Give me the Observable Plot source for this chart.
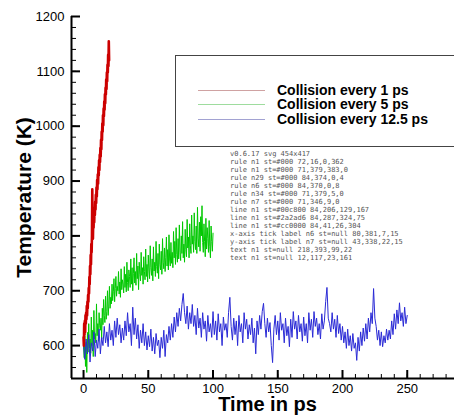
<!DOCTYPE html>
<html>
<head>
<meta charset="utf-8">
<script src="https://cdn.jsdelivr.net/npm/d3@7"></script>
<script src="https://cdn.jsdelivr.net/npm/@observablehq/plot@0.6"></script>
<style>
  html, body { margin: 0; padding: 0; background: #fff; }
  body { width: 454px; height: 417px; overflow: hidden; position: relative; font-family: "Liberation Sans", Arial, Helvetica, sans-serif; }
  #legend { position: absolute; left: 175px; top: 55px; width: 320px; height: 92px; border: 1.5px solid #444; background: #fff; box-sizing: border-box; }
  .row { position: absolute; left: 0; height: 14px; }
  .sw { position: absolute; left: 22px; width: 67px; height: 0; border-top: 1.5px solid; top: 7px; }
  .lb { position: absolute; left: 101px; top: 0; font-size: 14px; font-weight: bold; line-height: 14px; white-space: nowrap; color: #000; }
  #dbg { position: absolute; left: 230px; top: 150px; width: 224px; font-size: 7px; line-height: 8px; white-space: pre-wrap; word-break: break-all; margin: 0; color: #555; }
</style>
</head>
<body>
<div id="chart"></div>
<div id="legend"></div>
<pre id="dbg"></pre>
<script>
const seriesNames = ["Collision every 1 ps", "Collision every 5 ps", "Collision every 12.5 ps"];
const seriesColors = ["#cc0000", "#00c800", "#2a2ad6"];
const legendColors = ["#cfa2a2", "#9edc9e", "#a2a2d2"];
const redStep = 0.25;
const redValues = [
  615, 600, 640, 620, 645, 625, 655, 640, 660, 648,
  672, 655, 680, 668, 692, 680, 705, 695, 725, 712,
  745, 730, 765, 748, 785, 770, 800, 885, 805, 795,
  830, 815, 840, 825, 850, 838, 862, 848, 875, 860,
  888, 872, 902, 885, 912, 895, 925, 910, 938, 920,
  948, 935, 960, 945, 975, 958, 990, 975, 1005, 990,
  1020, 1002, 1032, 1018, 1045, 1030, 1058, 1042, 1070, 1058,
  1085, 1068, 1098, 1082, 1112, 1098, 1130, 1110, 1155, 1120
];
const greenStep = 0.5;
const greenValues = [
  600, 578, 618, 562, 606, 551, 624, 588, 640, 596,
  612, 586, 652, 600, 628, 580, 664, 612, 622, 605,
  676, 618, 640, 608, 660, 636, 628, 650, 612, 668,
  638, 684, 655, 642, 690, 648, 662, 700, 655, 672,
  708, 668, 688, 676, 712, 682, 698, 722, 680, 704,
  726, 690, 708, 700, 735, 694, 716, 688, 740, 702,
  720, 712, 696, 744, 706, 730, 698, 752, 715, 700,
  738, 726, 706, 758, 712, 742, 700, 732, 760, 714,
  735, 710, 768, 722, 745, 702, 752, 730, 718, 770,
  728, 742, 712, 762, 735, 720, 776, 726, 748, 716,
  765, 738, 722, 782, 742, 728, 758, 718, 780, 736,
  752, 726, 790, 744, 732, 768, 722, 785, 748, 738,
  772, 730, 795, 752, 740, 778, 735, 760, 798, 745,
  775, 738, 802, 756, 745, 788, 750, 770, 742, 808,
  760, 790, 748, 815, 766, 752, 795, 758, 820, 770,
  755, 800, 768, 826, 760, 785, 752, 812, 775, 762,
  830, 778, 798, 760, 822, 782, 768, 838, 785, 800,
  770, 842, 790, 775, 818, 768, 852, 796, 780, 825,
  772, 835, 800, 855, 788, 770, 822, 790, 762, 832,
  776, 815, 795, 770, 828, 780, 760, 818, 790, 772,
  805
];
const blueStep = 1;
const blueValues = [
  600, 575, 612, 585, 620, 570, 605, 590, 625, 580,
  610, 595, 630, 585, 615, 600, 635, 605, 625, 598,
  640, 610, 628, 600, 645, 615, 650, 620, 638, 605,
  632, 610, 645, 618, 660, 625, 640, 600, 670, 620,
  650, 612, 638, 595, 628, 605, 640, 600, 625, 592,
  618, 598, 630, 590, 615, 585, 622, 600, 610, 578,
  615, 595, 628, 580, 620, 605, 635, 610, 640, 615,
  652, 625, 660, 635, 668, 645, 675, 695, 660, 640,
  672, 630, 660, 640, 675, 635, 655, 620, 668, 632,
  650, 615, 660, 630, 645, 608, 655, 625, 640, 615,
  662, 620, 645, 610, 658, 625, 640, 600, 652, 628,
  640, 615, 660, 688, 635, 610, 650, 620, 645, 600,
  655, 625, 640, 605, 660, 630, 648, 612, 638, 620,
  650, 605, 632, 585, 645, 620, 655, 630, 662, 677,
  640, 615, 650, 625, 642, 600, 569, 630, 655, 620,
  645, 610, 660, 628, 640, 605, 650, 618, 635, 598,
  648, 615, 662, 630, 645, 612, 655, 625, 640, 608,
  652, 618, 640, 605, 660, 628, 648, 615, 662, 635,
  650, 620, 640, 612, 658, 630, 645, 680, 706, 650,
  640, 625, 660, 630, 648, 615, 655, 622, 640, 610,
  635, 605, 625, 595, 630, 600, 618, 590, 622, 595,
  605, 573, 615, 590, 625, 600, 632, 608, 640, 612,
  650, 625, 660, 640, 704, 650, 635, 610, 628, 600,
  625, 598, 618, 605, 630, 610, 628, 612, 645, 620,
  658, 630, 665, 640, 678, 645, 660, 635, 670, 640,
  655
];
const xDomain = [-9.3, 286.5];
const yDomain = [540, 1200];
const xMajorTicks = [0, 50, 100, 150, 200, 250];
const xMinorTicks = [0, 10, 20, 30, 40, 50, 60, 70, 80, 90, 100, 110, 120, 130, 140, 150, 160, 170, 180, 190, 200, 210, 220, 230, 240, 250, 260, 270, 280];
const yMajorTicks = [600, 700, 800, 900, 1000, 1100, 1200];
const yMinorTicks = [540, 560, 580, 600, 620, 640, 660, 680, 700, 720, 740, 760, 780, 800, 820, 840, 860, 880, 900, 920, 940, 960, 980, 1000, 1020, 1040, 1060, 1080, 1100, 1120, 1140, 1160, 1180, 1200];
const xLabel = "Time in ps";
const yLabel = "Temperature (K)";

const toRows = (vals, step) => vals.map((v, i) => ({t: i * step, T: v}));
const red = toRows(redValues, redStep);
const green = toRows(greenValues, greenStep);
const blue = toRows(blueValues, blueStep);

const W = 454, H = 417, mL = 71, mR = 0, mT = 16, mB = 39;
const frameW = W - mL - mR, frameH = H - mT - mB;

let s = "";
try {
const chart = Plot.plot({
  width: W, height: H,
  marginLeft: mL, marginRight: mR, marginTop: mT, marginBottom: mB,
  style: {fontFamily: "Liberation Sans, Arial, sans-serif"},
  x: {domain: xDomain, axis: null},
  y: {domain: yDomain, axis: null},
  marks: [
    Plot.ruleX([xDomain[0]], {stroke: "#000", strokeWidth: 2}),
    Plot.ruleY([yDomain[0]], {stroke: "#000", strokeWidth: 2}),
    Plot.ruleX(xMinorTicks, {x: d => d, insetTop: frameH - 4, stroke: "#000", strokeWidth: 1}),
    Plot.ruleX(xMajorTicks, {x: d => d, insetTop: frameH - 8, stroke: "#000", strokeWidth: 2}),
    Plot.ruleY(yMinorTicks, {y: d => d, insetRight: frameW - 5, stroke: "#000", strokeWidth: 1}),
    Plot.ruleY(yMajorTicks, {y: d => d, insetRight: frameW - 9, stroke: "#000", strokeWidth: 2}),
    Plot.line(green, {x: "t", y: "T", stroke: seriesColors[1], strokeWidth: 1}),
    Plot.line(blue, {x: "t", y: "T", stroke: seriesColors[2], strokeWidth: 1}),
    Plot.line(red, {x: "t", y: "T", stroke: seriesColors[0], strokeWidth: 2.6}),
    Plot.axisX({ticks: xMajorTicks, tickSize: 0, tickPadding: 5, anchor: "bottom", fontSize: 13, label: null, tickFormat: d => String(d)}),
    Plot.axisY({ticks: yMajorTicks, tickSize: 0, tickPadding: 7, anchor: "left", fontSize: 13, label: null, tickFormat: d => String(d)}),
    Plot.text([xLabel], {frameAnchor: "bottom", text: d => d, dy: 26.5, dx: 4.5, fontSize: 20, fontWeight: "bold", lineAnchor: "middle", textAnchor: "middle", fill: "#000"}),
    Plot.text([yLabel], {frameAnchor: "left", text: d => d, dx: -47, rotate: -90, fontSize: 21, fontWeight: "bold", lineAnchor: "middle", textAnchor: "middle", fill: "#000"})
  ]
});
document.getElementById("chart").appendChild(chart);
s += "v" + Plot.version + " svg " + chart.getAttribute("width") + "x" + chart.getAttribute("height") + "\n";
chart.querySelectorAll(":scope > g").forEach(g => {
  const c = g.firstElementChild;
  let r = c ? c.getBoundingClientRect() : null;
  s += (g.getAttribute("aria-label") || "?") + " n" + g.children.length + " st=" + g.getAttribute("stroke") + " " + (r ? [r.x, r.y, r.width, r.height].map(Math.round).join(",") : "") + "\n";
});
} catch (e) { s += "ERR " + e.message; }
document.getElementById("dbg").textContent = s;

const legend = document.getElementById("legend");
const rowTops = [26.5, 41, 55.5];
seriesNames.forEach((name, i) => {
  const row = document.createElement("div");
  row.className = "row";
  row.style.top = rowTops[i] + "px";
  const sw = document.createElement("div");
  sw.className = "sw";
  sw.style.borderTopColor = legendColors[i];
  const lb = document.createElement("div");
  lb.className = "lb";
  lb.textContent = name;
  row.appendChild(sw);
  row.appendChild(lb);
  legend.appendChild(row);
});
</script>
</body>
</html>
